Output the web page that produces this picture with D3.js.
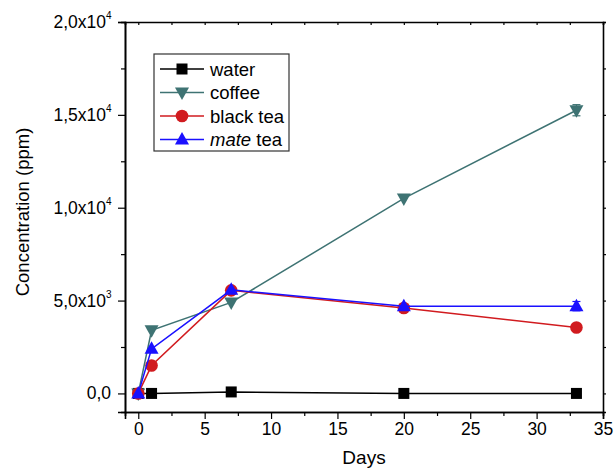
<!DOCTYPE html>
<html>
<head>
<meta charset="utf-8">
<script src="https://cdn.jsdelivr.net/npm/d3@7"></script>
<style>
  body { margin: 0; background: #fff; }
  text { font-family: "Liberation Sans", Arial, sans-serif; fill: #000; }
</style>
</head>
<body>
<div id="chart"></div>
<script>
// data
var days = [0, 1, 7, 20, 33];
var water = [0, 0, 80, 0, 0];
var coffee = [0, 3400, 4900, 10500, 15250];
var blackTea = [0, 1500, 5550, 4600, 3550];
var mateTea = [0, 2400, 5580, 4700, 4700];
var coffeeErr = [0, 0, 0, 0, 300];
var mateErr = [0, 0, 0, 0, 250];
var xTicks = [0, 5, 10, 15, 20, 25, 30, 35];
var yTicks = [0, 5000, 10000, 15000, 20000];
var yTickLabels = [["0,0", ""], ["5,0x10", "3"], ["1,0x10", "4"], ["1,5x10", "4"], ["2,0x10", "4"]];

var margin = { left: 125, right: 11, top: 22, bottom: 58 };
var W = 614, H = 470;
var width = W - margin.left - margin.right,
    height = H - margin.top - margin.bottom;

var svg = d3.select("#chart").append("svg")
    .attr("width", W).attr("height", H)
  .append("g")
    .attr("transform", "translate(" + margin.left + "," + margin.top + ")");

var x = d3.scaleLinear().domain([-1, 35]).range([0, width]);
var y = d3.scaleLinear().domain([-1000, 20000]).range([height, 0]);

// axes
var xAxis = svg.append("g").attr("transform", "translate(0," + height + ")")
    .call(d3.axisBottom(x).tickValues(xTicks).tickSize(7).tickFormat(d3.format("d")));
svg.append("g").attr("transform", "translate(0," + height + ")")
    .call(d3.axisBottom(x).tickValues(d3.range(2.5, 35, 5)).tickSize(4).tickFormat(""));
var yAxis = svg.append("g")
    .call(d3.axisLeft(y).tickValues(yTicks).tickSize(7).tickFormat(""));
svg.append("g")
    .call(d3.axisLeft(y).tickValues(d3.range(2500, 20000, 5000)).tickSize(4).tickFormat(""));
svg.append("g")
    .call(d3.axisTop(x).tickValues(d3.range(0, 35.1, 2.5)).tickSize(-3).tickFormat(""));
svg.append("g").attr("transform", "translate(" + width + ",0)")
    .call(d3.axisRight(y).tickValues(d3.range(0, 20001, 2500)).tickSize(3).tickFormat(""));

svg.selectAll(".domain").attr("stroke", "#000").attr("stroke-width", 1.6);
svg.selectAll(".tick line").attr("stroke", "#000").attr("stroke-width", 1.2);

xAxis.selectAll("text")
    .attr("y", 11)
    .style("font-size", "17.5px")
    .style("font-family", "'Liberation Sans', Arial, sans-serif")
    .attr("fill", "#000");

// y tick labels with superscripts
var yl = svg.append("g");
yTicks.forEach(function(v, i) {
  var sup = yTickLabels[i][1];
  yl.append("text")
      .attr("x", sup ? -19 : -14)
      .attr("y", y(v) + 6)
      .attr("text-anchor", "end")
      .style("font-size", "17.5px")
      .text(yTickLabels[i][0]);
  if (sup) {
    yl.append("text")
        .attr("x", -19)
        .attr("y", y(v) - 3)
        .style("font-size", "10px")
        .text(sup);
  }
});

// axis titles
svg.append("text")
    .attr("x", x(17))
    .attr("y", height + 52)
    .attr("text-anchor", "middle")
    .style("font-size", "19px")
    .text("Days");

svg.append("text")
    .attr("transform", "rotate(-90)")
    .attr("x", -(height / 2) + 5)
    .attr("y", -96)
    .attr("text-anchor", "middle")
    .style("font-size", "18.5px")
    .text("Concentration (ppm)");

// series
var series = [
  { name: "water", values: water, err: null, color: "#000000", shape: "square" },
  { name: "coffee", values: coffee, err: coffeeErr, color: "#3e7373", shape: "down" },
  { name: "black tea", values: blackTea, err: null, color: "#d11b1f", shape: "circle" },
  { name: "mate tea", values: mateTea, err: mateErr, color: "#1a10ff", shape: "up" }
];

var line = d3.line()
    .x(function(d) { return x(d.day); })
    .y(function(d) { return y(d.value); });

function marker(g, shape, color) {
  if (shape === "square") {
    g.append("rect").attr("x", -5.5).attr("y", -5.5).attr("width", 11).attr("height", 11).attr("fill", color);
  } else if (shape === "circle") {
    g.append("circle").attr("r", 6.3).attr("fill", color);
  } else if (shape === "up") {
    g.append("path").attr("d", "M0,-7.5L7,5L-7,5Z").attr("fill", color);
  } else {
    g.append("path").attr("d", "M0,7.5L7,-5L-7,-5Z").attr("fill", color);
  }
}

series.forEach(function(s) {
  var pts = days.map(function(d, i) {
    return { day: d, value: s.values[i], err: s.err ? s.err[i] : 0 };
  });
  var g = svg.append("g");
  g.append("path")
      .attr("d", line(pts))
      .attr("fill", "none")
      .attr("stroke", s.color)
      .attr("stroke-width", 1.5);
  pts.filter(function(p) { return p.err > 0; }).forEach(function(p) {
    g.append("line")
        .attr("x1", x(p.day)).attr("x2", x(p.day))
        .attr("y1", y(p.value - p.err)).attr("y2", y(p.value + p.err))
        .attr("stroke", s.color).attr("stroke-width", 1.2);
    [p.value - p.err, p.value + p.err].forEach(function(v) {
      g.append("line")
          .attr("x1", x(p.day) - 4).attr("x2", x(p.day) + 4)
          .attr("y1", y(v)).attr("y2", y(v))
          .attr("stroke", s.color).attr("stroke-width", 1.2);
    });
  });
  pts.forEach(function(p) {
    var m = g.append("g").attr("transform", "translate(" + x(p.day) + "," + y(p.value) + ")");
    marker(m, s.shape, s.color);
  });
});

// legend
var lg = svg.append("g").attr("transform", "translate(" + (154 - margin.left) + "," + (54 - margin.top) + ")");
lg.append("rect")
    .attr("width", 135).attr("height", 97)
    .attr("fill", "#fff").attr("stroke", "#333").attr("stroke-width", 1.2);
series.forEach(function(s, i) {
  var yy = 15 + i * 23.5;
  lg.append("line").attr("x1", 6).attr("x2", 50).attr("y1", yy).attr("y2", yy)
      .attr("stroke", s.color).attr("stroke-width", 1.5);
  var m = lg.append("g").attr("transform", "translate(28," + yy + ")");
  marker(m, s.shape, s.color);
  var t = lg.append("text").attr("x", 56).attr("y", yy + 6.5).style("font-size", "18.5px");
  if (s.name === "mate tea") {
    t.append("tspan").style("font-style", "italic").text("mate");
    t.append("tspan").text(" tea");
  } else {
    t.text(s.name);
  }
});
</script>
</body>
</html>
